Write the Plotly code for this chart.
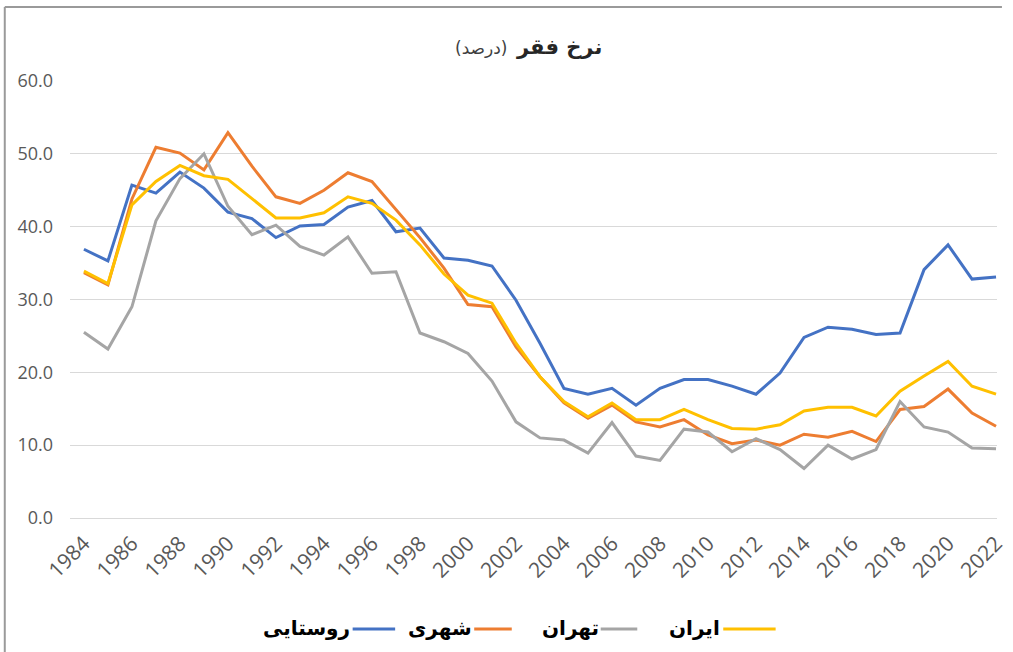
import plotly.graph_objects as go

years = list(range(1984, 2023))

rural = [36.9, 35.3, 45.7, 44.6, 47.5, 45.3, 42.0, 41.1, 38.5, 40.1,
         40.3, 42.7, 43.6, 39.3, 39.8, 35.7, 35.4, 34.6, 29.9, 24.0,
         17.8, 17.0, 17.8, 15.5, 17.8, 19.0, 19.0, 18.1, 17.0, 19.9,
         24.8, 26.2, 25.9, 25.2, 25.4, 34.1, 37.5, 32.8, 33.1]

urban = [33.7, 32.0, 43.8, 50.9, 50.1, 47.8, 52.9, 48.3, 44.1, 43.2,
         45.0, 47.4, 46.2, 42.3, 38.5, 34.3, 29.3, 29.0, 23.5, 19.4,
         15.8, 13.7, 15.5, 13.2, 12.5, 13.5, 11.4, 10.2, 10.7, 10.0,
         11.5, 11.1, 11.9, 10.5, 14.9, 15.3, 17.7, 14.4, 12.6]

tehran = [25.5, 23.2, 29.0, 40.8, 46.6, 50.0, 42.8, 38.9, 40.2, 37.3,
          36.1, 38.6, 33.6, 33.8, 25.4, 24.2, 22.6, 18.8, 13.2, 11.0,
          10.7, 8.9, 13.1, 8.5, 7.9, 12.2, 11.8, 9.1, 10.9, 9.4,
          6.8, 10.0, 8.1, 9.4, 16.0, 12.5, 11.8, 9.6, 9.5]

iran = [33.9, 32.2, 43.0, 46.2, 48.4, 47.0, 46.5, 43.8, 41.2, 41.2,
        41.9, 44.1, 43.2, 40.9, 37.5, 33.5, 30.6, 29.5, 24.0, 19.4,
        16.0, 13.9, 15.8, 13.5, 13.5, 14.9, 13.5, 12.3, 12.2, 12.8,
        14.7, 15.2, 15.2, 14.0, 17.4, 19.5, 21.5, 18.1, 17.0]

series_names = ["روستایی", "شهری", "تهران", "ایران"]
series_values = [rural, urban, tehran, iran]
series_colors = ["#4472C4", "#ED7D31", "#A5A5A5", "#FFC000"]

title_main = "نرخ فقر"
title_unit = "(درصد)"

W, H = 1013, 652
L, R, T, B = 70, 5, 81, 134
PW, PH = W - L - R, H - T - B


def px(x):
    return (x - L) / PW


def py(y):
    return (H - B - y) / PH


fig = go.Figure()
for name, vals, col in zip(series_names, series_values, series_colors):
    fig.add_trace(go.Scatter(x=years, y=vals, mode="lines", name=name,
                             line=dict(color=col, width=3),
                             showlegend=False))

fig.update_layout(
    width=W, height=H,
    margin=dict(l=L, r=R, t=T, b=B),
    paper_bgcolor="white", plot_bgcolor="white",
    font=dict(family="Open Sans", color="#595959"),
)
fig.update_xaxes(range=[1983.42, 2022.04], tickmode="array",
                 tickvals=years[::2], ticktext=[str(y) for y in years[::2]],
                 tickangle=-45, showgrid=False, zeroline=False,
                 showline=False, ticks="",
                 tickfont=dict(size=21, color="#595959"),
                 ticklabelstandoff=8, ticklabeloverflow="allow")
fig.update_yaxes(range=[0, 60], dtick=10, tickformat=".1f",
                 showgrid=True, gridcolor="#d9d9d9", gridwidth=1,
                 zeroline=True, zerolinecolor="#d9d9d9", zerolinewidth=1,
                 showline=False, ticks="",
                 tickfont=dict(size=18, color="#595959"),
                 ticklabelstandoff=16)

# title
fig.add_annotation(x=px(610), y=py(47), xref="paper", yref="paper",
                   text="<b>" + title_main + "</b>", showarrow=False,
                   xanchor="right", yanchor="middle",
                   font=dict(family="DejaVu Sans", size=21, color="#262626"))
fig.add_annotation(x=px(514), y=py(48), xref="paper", yref="paper",
                   text=title_unit, showarrow=False,
                   xanchor="right", yanchor="middle",
                   font=dict(family="DejaVu Sans", size=17, color="#404040"))

# legend (RTL: text then line on its right)
legend_text_right = [355, 479, 607, 730]
legend_line = [(356, 399), (479, 517), (607, 644), (731, 784)]
ly = 628
for name, col, tr, (x0, x1) in zip(series_names, series_colors,
                                   legend_text_right, legend_line):
    fig.add_annotation(x=px(tr), y=py(ly), xref="paper", yref="paper",
                       text="<b>" + name + "</b>", showarrow=False,
                       xanchor="right", yanchor="middle",
                       font=dict(family="DejaVu Sans", size=20, color="#000000"))
    fig.add_shape(type="line", xref="paper", yref="paper",
                  x0=px(x0), x1=px(x1), y0=py(ly + 1), y1=py(ly + 1),
                  line=dict(color=col, width=3))

# outer frame
fig.add_shape(type="line", xref="paper", yref="paper",
              x0=px(4), x1=px(1013), y0=py(7), y1=py(7),
              line=dict(color="#9a9a9a", width=2))
fig.add_shape(type="line", xref="paper", yref="paper",
              x0=px(4), x1=px(4), y0=py(7), y1=py(652),
              line=dict(color="#9a9a9a", width=2))

fig.write_html("out.html",
               config={"displayModeBar": False},
               post_script="document.body.style.margin='0';"
                           "document.body.style.overflow='hidden';")
